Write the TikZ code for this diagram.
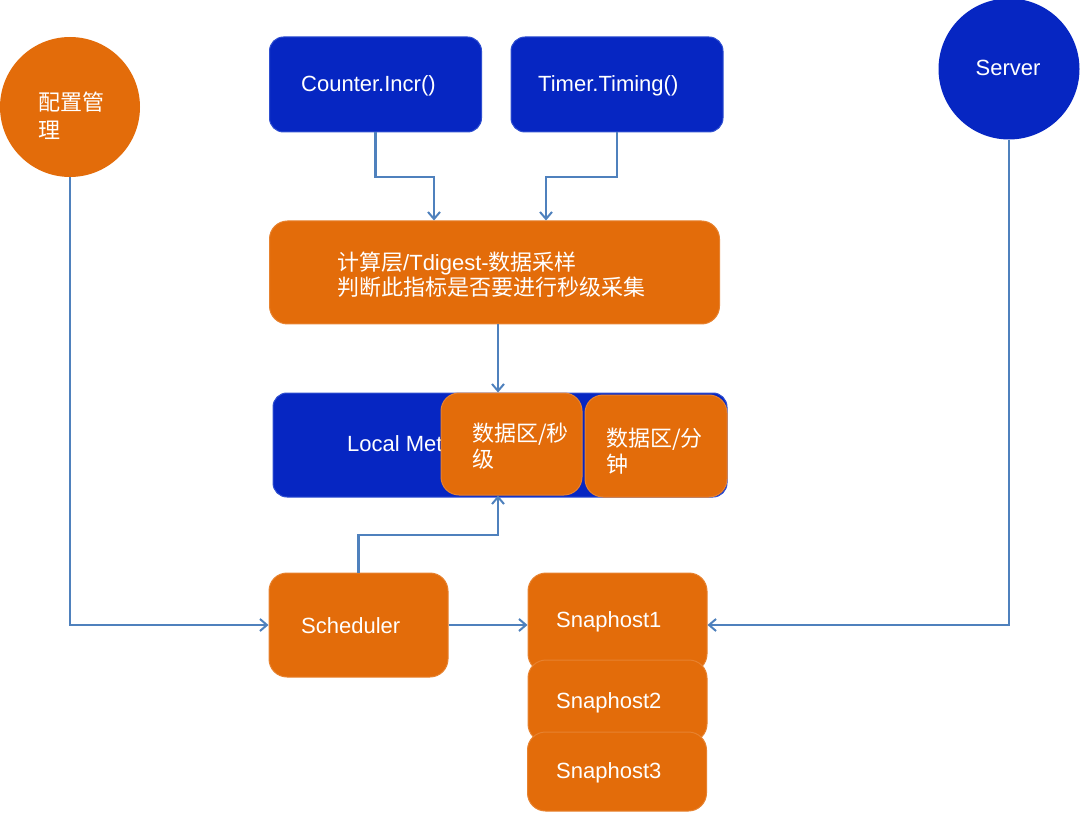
\documentclass[tikz,border=0pt]{standalone}
\usepackage{fontspec}
\setmainfont{Liberation Sans}
\newfontfamily\cjk{Noto Sans CJK SC}
\usetikzlibrary{arrows.meta,positioning}
\definecolor{orng}{HTML}{E36C0A}
\definecolor{blu}{HTML}{0626C2}
\definecolor{bluedge}{HTML}{2F4FD0}
\definecolor{lnk}{HTML}{4F81BD}
\tikzset{
  bluebox/.style={draw=bluedge,line width=1pt,fill=blu,rounded corners=14pt,inner sep=0pt},
  orbox/.style={draw=orng!85!white,line width=1pt,fill=orng,rounded corners=18pt,inner sep=0pt},
  orcirc/.style={circle,fill=orng,inner sep=0pt,minimum size=140pt},
  bluecirc/.style={circle,fill=blu,inner sep=0pt,minimum size=141pt},
  lbl/.style={text=white,font=\fontsize{22}{26}\selectfont,inner sep=0pt,anchor=base west,align=left},
  arr/.style={draw=lnk,line width=2.2pt,-{Straight Barb[length=7pt,width=12pt,line width=2pt]}},
}
\begin{document}
\begin{tikzpicture}[x=1pt,y=-1pt]
\useasboundingbox (0,0) rectangle (1080,813);
% circles
\node[orcirc] (cfg) at (70,107) {};
\node[lbl,font=\fontsize{22}{28}\selectfont] (cfgt) at (38,139) {\cjk 配置管\\\cjk 理};
\node[bluecirc] (server) at (1009,69) {};
\node[lbl,anchor=base] (servert) at (1008,76) {Server};
% top boxes
\node[bluebox,minimum width=212pt,minimum height=95pt] (counter) at (375.5,84.5) {};
\node[lbl] (countert) at (301,92) {Counter.Incr()};
\node[bluebox,minimum width=212pt,minimum height=95pt] (timer) at (617,84.5) {};
\node[lbl] (timert) at (538,92) {Timer.Timing()};
% compute box
\node[orbox,minimum width=450pt,minimum height=103pt] (compute) at (494.5,272.5) {};
\node[lbl,font=\fontsize{22}{25.5}\selectfont] (computet) at (337,296) {{\cjk 计算层}/Tdigest-{\cjk 数据采样}\\\cjk 判断此指标是否要进行秒级采集};
% local metrics
\node[bluebox,minimum width=454pt,minimum height=104pt] (local) at (500,445) {};
\node[lbl] (localt) at (347,451) {Local Metrics};
\node[orbox,minimum width=141pt,minimum height=102pt] (sec) at (511.5,444) {};
\node[lbl] (sect) at (472,467) {\cjk 数据区/秒\\\cjk 级};
\node[orbox,minimum width=142pt,minimum height=102pt] (minu) at (656,446) {};
\node[lbl] (minut) at (606,472) {\cjk 数据区/分\\\cjk 钟};
% scheduler
\node[orbox,minimum width=179pt,minimum height=104pt] (sched) at (358.5,625) {};
\node[lbl] (schedt) at (301,633) {Scheduler};
% snapshots
\node[orbox,minimum width=179pt,minimum height=99pt] (snap1) at (617.5,622.5) {};
\node[lbl] (snap1t) at (556,627) {Snaphost1};
\node[orbox,minimum width=179pt,minimum height=82pt] (snap2) at (617.5,701) {};
\node[lbl] (snap2t) at (556,708) {Snaphost2};
\node[orbox,minimum width=179pt,minimum height=79pt] (snap3) at (617,771.5) {};
\node[lbl] (snap3t) at (556,778) {Snaphost3};
% helper coordinates
\coordinate (ya) at (0,177);
\coordinate (xa) at (434,0);
\coordinate (xb) at (546,0);
\coordinate (xc) at (498,0);
\coordinate (yb) at (0,535);
% connectors
\draw[arr] (counter.south) |- (ya -| xa) -- (compute.north -| xa);
\draw[arr] (timer.south) |- (ya -| xb) -- (compute.north -| xb);
\draw[arr] (compute.south -| xc) -- (sec.north -| xc);
\draw[arr] (sched.north) |- (yb -| xc) -- (sec.south -| xc);
\draw[arr] (cfg.south) |- (sched.west);
\draw[arr] (sched.east) -- (sched.east -| snap1.west);
\draw[arr] (server.south) |- (sched.east -| snap1.east);
\end{tikzpicture}
\end{document}
